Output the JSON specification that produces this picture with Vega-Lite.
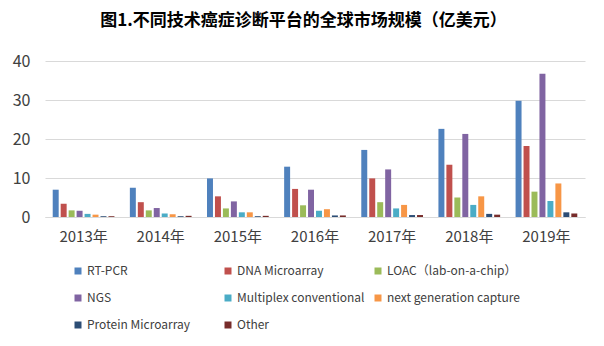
{
  "$schema": "https://vega.github.io/schema/vega-lite/v6.json",
  "autosize": "none",
  "width": 540,
  "height": 156,
  "padding": {"left": 45, "top": 61, "right": 19, "bottom": 129},
  "background": "white",
  "title": {
    "text": "图1.不同技术癌症诊断平台的全球市场规模（亿美元）",
    "font": "Noto Sans CJK SC",
    "fontSize": 17,
    "fontWeight": "bold",
    "color": "#000000",
    "anchor": "start",
    "dx": 88,
    "offset": 23
  },
  "config": {
    "view": {"stroke": null},
    "font": "Noto Sans CJK SC"
  },
  "data": {
    "values": [
      {"year": "2013年", "series": "RT-PCR", "value": 7.0},
      {"year": "2013年", "series": "DNA Microarray", "value": 3.4},
      {"year": "2013年", "series": "LOAC（lab-on-a-chip）", "value": 1.7},
      {"year": "2013年", "series": "NGS", "value": 1.6},
      {"year": "2013年", "series": "Multiplex conventional", "value": 0.8},
      {"year": "2013年", "series": "next generation capture", "value": 0.6},
      {"year": "2013年", "series": "Protein  Microarray", "value": 0.2},
      {"year": "2013年", "series": "Other", "value": 0.2},
      {"year": "2014年", "series": "RT-PCR", "value": 7.5},
      {"year": "2014年", "series": "DNA Microarray", "value": 3.8},
      {"year": "2014年", "series": "LOAC（lab-on-a-chip）", "value": 1.7},
      {"year": "2014年", "series": "NGS", "value": 2.3},
      {"year": "2014年", "series": "Multiplex conventional", "value": 0.9},
      {"year": "2014年", "series": "next generation capture", "value": 0.7},
      {"year": "2014年", "series": "Protein  Microarray", "value": 0.2},
      {"year": "2014年", "series": "Other", "value": 0.3},
      {"year": "2015年", "series": "RT-PCR", "value": 9.9},
      {"year": "2015年", "series": "DNA Microarray", "value": 5.3},
      {"year": "2015年", "series": "LOAC（lab-on-a-chip）", "value": 2.2},
      {"year": "2015年", "series": "NGS", "value": 4.0},
      {"year": "2015年", "series": "Multiplex conventional", "value": 1.2},
      {"year": "2015年", "series": "next generation capture", "value": 1.2},
      {"year": "2015年", "series": "Protein  Microarray", "value": 0.2},
      {"year": "2015年", "series": "Other", "value": 0.3},
      {"year": "2016年", "series": "RT-PCR", "value": 12.9},
      {"year": "2016年", "series": "DNA Microarray", "value": 7.2},
      {"year": "2016年", "series": "LOAC（lab-on-a-chip）", "value": 3.0},
      {"year": "2016年", "series": "NGS", "value": 7.0},
      {"year": "2016年", "series": "Multiplex conventional", "value": 1.6},
      {"year": "2016年", "series": "next generation capture", "value": 2.0},
      {"year": "2016年", "series": "Protein  Microarray", "value": 0.4},
      {"year": "2016年", "series": "Other", "value": 0.4},
      {"year": "2017年", "series": "RT-PCR", "value": 17.2},
      {"year": "2017年", "series": "DNA Microarray", "value": 9.9},
      {"year": "2017年", "series": "LOAC（lab-on-a-chip）", "value": 3.8},
      {"year": "2017年", "series": "NGS", "value": 12.2},
      {"year": "2017年", "series": "Multiplex conventional", "value": 2.2},
      {"year": "2017年", "series": "next generation capture", "value": 3.1},
      {"year": "2017年", "series": "Protein  Microarray", "value": 0.5},
      {"year": "2017年", "series": "Other", "value": 0.5},
      {"year": "2018年", "series": "RT-PCR", "value": 22.6},
      {"year": "2018年", "series": "DNA Microarray", "value": 13.4},
      {"year": "2018年", "series": "LOAC（lab-on-a-chip）", "value": 5.0},
      {"year": "2018年", "series": "NGS", "value": 21.3},
      {"year": "2018年", "series": "Multiplex conventional", "value": 3.1},
      {"year": "2018年", "series": "next generation capture", "value": 5.3},
      {"year": "2018年", "series": "Protein  Microarray", "value": 0.8},
      {"year": "2018年", "series": "Other", "value": 0.6},
      {"year": "2019年", "series": "RT-PCR", "value": 29.8},
      {"year": "2019年", "series": "DNA Microarray", "value": 18.2},
      {"year": "2019年", "series": "LOAC（lab-on-a-chip）", "value": 6.5},
      {"year": "2019年", "series": "NGS", "value": 36.7},
      {"year": "2019年", "series": "Multiplex conventional", "value": 4.1},
      {"year": "2019年", "series": "next generation capture", "value": 8.6},
      {"year": "2019年", "series": "Protein  Microarray", "value": 1.2},
      {"year": "2019年", "series": "Other", "value": 0.9}
    ]
  },
  "mark": {"type": "bar"},
  "encoding": {
    "x": {
      "field": "year",
      "type": "nominal",
      "sort": null,
      "scale": {"paddingInner": 0.2, "paddingOuter": 0.1},
      "axis": {
        "title": null,
        "labelAngle": 0,
        "labelFontSize": 15,
        "labelColor": "#404040",
        "labelPadding": 12,
        "ticks": false,
        "domainColor": "#d9d9d9",
        "domainWidth": 1
      }
    },
    "xOffset": {
      "field": "series",
      "type": "nominal",
      "sort": ["RT-PCR", "DNA Microarray", "LOAC（lab-on-a-chip）", "NGS", "Multiplex conventional", "next generation capture", "Protein  Microarray", "Other"],
      "scale": {"paddingInner": 0.25}
    },
    "y": {
      "field": "value",
      "type": "quantitative",
      "scale": {"domain": [0, 40]},
      "axis": {
        "title": null,
        "values": [0, 10, 20, 30, 40],
        "labelFontSize": 16,
        "labelColor": "#404040",
        "labelPadding": 15,
        "ticks": false,
        "domain": false,
        "gridColor": "#d9d9d9"
      }
    },
    "color": {
      "field": "series",
      "type": "nominal",
      "sort": ["RT-PCR", "DNA Microarray", "LOAC（lab-on-a-chip）", "NGS", "Multiplex conventional", "next generation capture", "Protein  Microarray", "Other"],
      "scale": {
        "domain": ["RT-PCR", "DNA Microarray", "LOAC（lab-on-a-chip）", "NGS", "Multiplex conventional", "next generation capture", "Protein  Microarray", "Other"],
        "range": ["#4F81BD", "#C0504D", "#9BBB59", "#8064A2", "#4BACC6", "#F79646", "#2C4D75", "#772C2A"]
      },
      "legend": {
        "title": null,
        "orient": "none",
        "legendX": 27,
        "legendY": 204,
        "direction": "horizontal",
        "columns": 3,
        "gridAlign": "all",
        "columnPadding": 2,
        "rowPadding": 15,
        "symbolType": "square",
        "symbolSize": 49,
        "symbolStrokeWidth": 0,
        "labelFontSize": 12,
        "labelColor": "#404040",
        "labelOffset": 3,
        "labelLimit": 200
      }
    }
  }
}
